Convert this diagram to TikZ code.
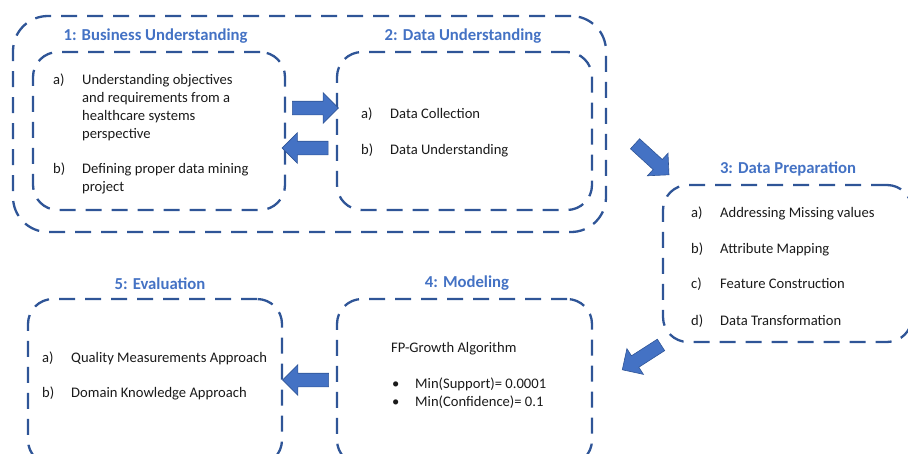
\documentclass[tikz,border=0pt]{standalone}
\usepackage{fontspec}
\setmainfont{Carlito}
\usetikzlibrary{shapes.arrows}
\definecolor{lineblue}{HTML}{2F5597}
\definecolor{titleblue}{HTML}{4472C4}
\definecolor{bodytext}{HTML}{1A1A1A}
\tikzset{
  dbox/.style={draw=lineblue, line width=2.3pt, dash pattern=on 16pt off 10pt,
    rounded corners=25pt, inner sep=0pt},
  titletext/.style={font=\fontsize{16.7}{20}\selectfont\bfseries, text=titleblue, inner sep=0pt},
  body/.style={font=\fontsize{14.6}{17.7}\selectfont, text=bodytext, anchor=west, inner sep=0pt, align=left, yshift=-1.5pt},
  barrow/.style={single arrow, fill=titleblue, draw=lineblue, line width=0.6pt,
    minimum height=46pt, inner xsep=0pt, inner ysep=6.5pt, single arrow head extend=8.5pt}
}
\newcommand{\itemrow}[2]{\begin{tabular}{@{}p{#1}@{}l@{}}#2\end{tabular}}
\begin{document}
\begin{tikzpicture}[x=1pt,y=-1pt]
\useasboundingbox (0,0) rectangle (908,453);
\clip (0,0) rectangle (908,453);
% boxes
\node[dbox, rounded corners=35pt, minimum width=593pt, minimum height=216pt] (outer) at (309.5,124) {};
\node[dbox, minimum width=252pt, minimum height=158pt] (b1) at (159,131) {};
\node[dbox, minimum width=255pt, minimum height=158pt] (b2) at (464.5,131) {};
\node[dbox, minimum width=249pt, minimum height=157pt] (b3) at (787.5,263.5) {};
\node[dbox, minimum width=255pt, minimum height=166pt] (b4) at (464.5,382) {};
\node[dbox, minimum width=254pt, minimum height=166pt] (b5) at (155,382) {};
% titles
\node[titletext] (t1) at (155.5,36.5) {1: Business Understanding};
\node[titletext] (t2) at (463,36.5) {2: Data Understanding};
\node[titletext] (t3) at (788,168.5) {3: Data Preparation};
\node[titletext] (t4) at (467,283.5) {4: Modeling};
\node[titletext] (t5) at (160,283.5) {5: Evaluation};
% box 1
\node[body] (b1a) at (53,106.5) {\itemrow{29pt}{a) & Understanding objectives\\ & and requirements from a\\ & healthcare systems\\ & perspective}};
\node[body] (b1b) at (53,177.5) {\itemrow{29pt}{b) & Defining proper data mining\\ & project}};
% box 2
\node[body] (b2a) at (361,113) {\itemrow{29pt}{a) & Data Collection}};
\node[body] (b2b) at (361,149) {\itemrow{29pt}{b) & Data Understanding}};
% box 3
\node[body] (b3a) at (691,212) {\itemrow{29pt}{a) & Addressing Missing values}};
\node[body] (b3b) at (691,248) {\itemrow{29pt}{b) & Attribute Mapping}};
\node[body] (b3c) at (691,283) {\itemrow{29pt}{c) & Feature Construction}};
\node[body] (b3d) at (691,320) {\itemrow{29pt}{d) & Data Transformation}};
% box 4
\node[body] (b4h) at (391,347) {FP-Growth Algorithm};
\node[body] (b4l) at (392,392.5) {\itemrow{23pt}{\textbullet & Min(Support)= 0.0001\\ \textbullet & Min(Confidence)= 0.1}};
% box 5
\node[body] (b5a) at (42,357) {\itemrow{29pt}{a) & Quality Measurements Approach}};
\node[body] (b5b) at (42,392) {\itemrow{29pt}{b) & Domain Knowledge Approach}};
% block arrows
\node[barrow] (a12) at (312,108) {};
\node[barrow, rotate=180] (a21) at (308.5,148) {};
\node[barrow, rotate=-42.4] (a23) at (649.5,157) {};
\node[barrow, rotate=-147.3] (a34) at (644.5,355.5) {};
\node[barrow, rotate=180] (a45) at (309,380) {};
\end{tikzpicture}
\end{document}
